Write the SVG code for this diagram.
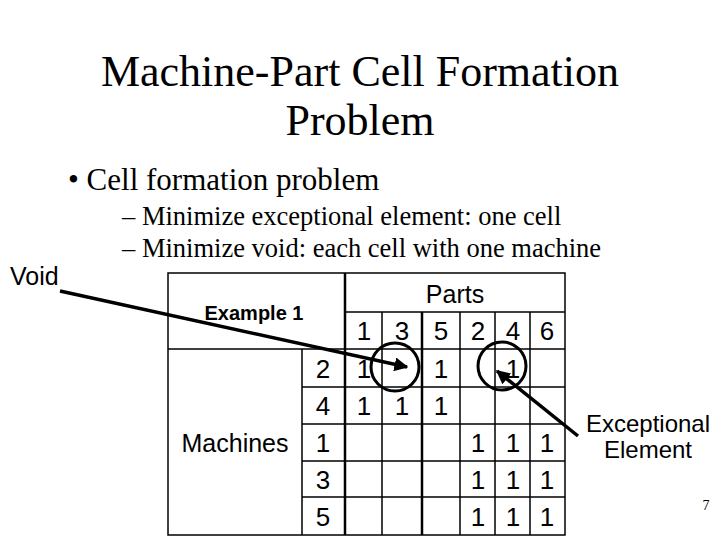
<svg xmlns="http://www.w3.org/2000/svg" width="720" height="540" viewBox="0 0 720 540">
<style>
.t{font-family:"Liberation Serif",serif;fill:#000}
.s{font-family:"Liberation Sans",sans-serif;fill:#000}
.g{stroke:#000;stroke-width:1.5;fill:none}
.d{font-family:"Liberation Sans",sans-serif;font-size:26px;text-anchor:middle}
</style>
<defs><marker id="a" viewBox="0 0 10 10" refX="9" refY="5" markerWidth="4" markerHeight="4" orient="auto"><path d="M0,0L10,5L0,10z"/></marker></defs>
<rect width="720" height="540" fill="#fff"/>
<text class="t" x="360" y="86" font-size="44" text-anchor="middle">Machine-Part Cell Formation</text>
<text class="t" x="360" y="135" font-size="44" text-anchor="middle">Problem</text>
<text class="t" x="68" y="190" font-size="31">• Cell formation problem</text>
<text class="t" x="122" y="225" font-size="26.5">– Minimize exceptional element: one cell</text>
<text class="t" x="122" y="257" font-size="26.5">– Minimize void: each cell with one machine</text>
<g id="table">
<rect x="168" y="273" width="397" height="262" class="g"/>
<path class="g" d="M345,312H565M168,349H565M302,387H565M302,424H565M302,461H565M302,497H565M302,349V535M382,312V535M460,312V535M495,312V535M530,312V535"/>
<path d="M345,273V535M422,312V535" stroke="#000" stroke-width="2.5"/>
<text class="s" x="254" y="320" font-size="20" font-weight="bold" text-anchor="middle">Example 1</text>
<text class="s" x="455" y="303" font-size="25" text-anchor="middle">Parts</text>
<text class="s" x="235" y="452" font-size="25" text-anchor="middle">Machines</text>
<g class="s d">
<text x="364" y="340">1</text><text x="402" y="340">3</text><text x="441" y="340">5</text><text x="478" y="340">2</text><text x="513" y="340">4</text><text x="547" y="340">6</text>
<text x="323" y="378">2</text><text x="323" y="415">4</text><text x="323" y="452">1</text><text x="323" y="489">3</text><text x="323" y="526">5</text>
<text x="364" y="378">1</text><text x="441" y="378">1</text><text x="513" y="378">1</text>
<text x="364" y="415">1</text><text x="402" y="415">1</text><text x="441" y="415">1</text>
<text x="478" y="452">1</text><text x="513" y="452">1</text><text x="547" y="452">1</text>
<text x="478" y="489">1</text><text x="513" y="489">1</text><text x="547" y="489">1</text>
<text x="478" y="526">1</text><text x="513" y="526">1</text><text x="547" y="526">1</text>
</g>
<circle cx="395" cy="367" r="24" fill="none" stroke="#000" stroke-width="3"/>
<circle cx="502" cy="366" r="24" fill="none" stroke="#000" stroke-width="3"/>
</g>
<g id="void"><text class="s" x="10" y="285" font-size="25">Void</text></g>
<g id="exc"><text class="s" x="648" y="432" font-size="24" text-anchor="middle">Exceptional</text><text class="s" x="648" y="458" font-size="24" text-anchor="middle">Element</text></g>
<g id="connectors">
<line x1="60" y1="291" x2="407" y2="367" stroke="#000" stroke-width="3.5" marker-end="url(#a)"/>
<line x1="578" y1="436" x2="497" y2="371" stroke="#000" stroke-width="3.5" marker-end="url(#a)"/>
</g>
<text class="t" x="706" y="510" font-size="14" text-anchor="middle">7</text>
</svg>
